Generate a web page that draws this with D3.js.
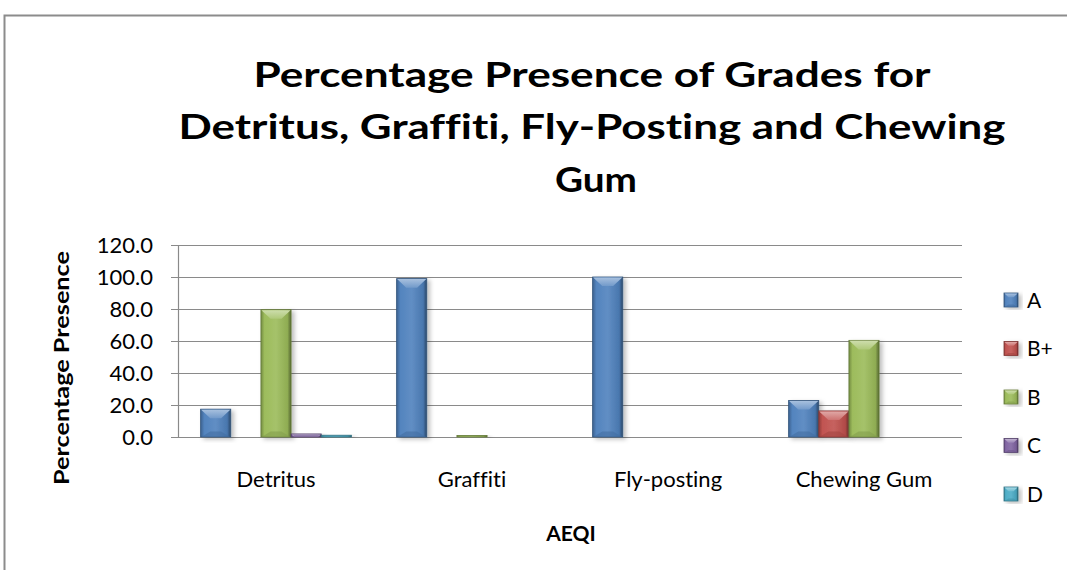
<!DOCTYPE html>
<html><head><meta charset="utf-8">
<script src="https://cdn.jsdelivr.net/npm/d3@7"></script>
<style>html,body{margin:0;padding:0;background:#fff;}svg{display:block;}text{font-variant-ligatures:none;}</style>
</head><body>
<script>
const categories = ["Detritus", "Graffiti", "Fly-posting", "Chewing Gum"];
const seriesNames = ["A", "B+", "B", "C", "D"];
const valuesA  = [17.4, 99.0, 100.0, 22.8];
const valuesBp = [0, 0, 0, 16.3];
const valuesB  = [79.6, 1.0, 0, 60.4];
const valuesC  = [1.9, 0, 0, 0];
const valuesD  = [1.1, 0, 0, 0];
const yTicks = [0, 20, 40, 60, 80, 100, 120];
const titleLines = ["Percentage Presence of Grades for", "Detritus, Graffiti, Fly-Posting and Chewing", "Gum"];
const colors = {"A":"#4F81BD","B+":"#C0504D","B":"#9BBB59","C":"#8064A2","D":"#4BACC6"};

const seriesValues = [valuesA, valuesBp, valuesB, valuesC, valuesD];

const W = 1067, H = 570;
const svg = d3.select("body").append("svg").attr("width", W).attr("height", H);
const defs = svg.append("defs");
const font = "Lato, 'Open Sans', sans-serif";

// frame
svg.append("path").attr("d", `M4.5,${H} L4.5,15.5 L${W},15.5`)
  .attr("fill","none").attr("stroke","#8c8c8c").attr("stroke-width",2);

// title
const titleBaselines = [87, 139, 192];
const titleWidths = [677, 827, 82];
titleLines.forEach((t,i)=>{
  svg.append("text").attr("x", i===2?596:592).attr("y", titleBaselines[i])
    .attr("text-anchor","middle").attr("font-family",font).attr("font-weight","bold")
    .attr("font-size",35).attr("fill","#000")
    .attr("textLength", titleWidths[i]).attr("lengthAdjust","spacingAndGlyphs")
    .text(t);
});

const x0 = d3.scaleBand().domain(categories).range([178, 962]).paddingInner(0).paddingOuter(0);
const x1 = d3.scaleBand().domain(seriesNames).range([0, x0.bandwidth()]).paddingInner(0).paddingOuter(0.75);
const y = d3.scaleLinear().domain([0,120]).range([437, 245]);

// gridlines
svg.append("g").selectAll("line").data(yTicks).join("line")
  .attr("x1",171).attr("x2",962).attr("y1",d=>Math.round(y(d))+0.5).attr("y2",d=>Math.round(y(d))+0.5)
  .attr("stroke","#8a8a8a").attr("stroke-width",1.2);
// y axis line
svg.append("line").attr("x1",178.5).attr("x2",178.5).attr("y1",y(120)).attr("y2",y(0))
  .attr("stroke","#8a8a8a").attr("stroke-width",1.2);

// y tick labels
svg.append("g").selectAll("text").data(yTicks).join("text")
  .attr("x",153).attr("y",d=>y(d)).attr("dy","0.36em").attr("text-anchor","end")
  .attr("font-family",font).attr("font-size",22).attr("fill","#000")
  .text(d=>d3.format(".1f")(d));

// gradients
function shade(c,k){ return k>0? d3.interpolateRgb(c,"#fff")(k) : d3.interpolateRgb(c,"#000")(-k); }
seriesNames.forEach((s,i)=>{
  const c = colors[s];
  const g = defs.append("linearGradient").attr("id","g"+i).attr("x1","0").attr("x2","1").attr("y1","0").attr("y2","0");
  g.append("stop").attr("offset","0%").attr("stop-color",shade(c,-0.25));
  g.append("stop").attr("offset","12%").attr("stop-color",shade(c,0.02));
  g.append("stop").attr("offset","50%").attr("stop-color",shade(c,0.1));
  g.append("stop").attr("offset","88%").attr("stop-color",shade(c,-0.08));
  g.append("stop").attr("offset","100%").attr("stop-color",shade(c,-0.45));
  const t = defs.append("linearGradient").attr("id","t"+i).attr("x1","0").attr("x2","0").attr("y1","0").attr("y2","1");
  t.append("stop").attr("offset","0%").attr("stop-color",shade(c,0.5));
  t.append("stop").attr("offset","100%").attr("stop-color",shade(c,0.2));
});
const f = defs.append("filter").attr("id","sh").attr("x","-20%").attr("y","-20%").attr("width","150%").attr("height","140%");
f.append("feDropShadow").attr("dx",3).attr("dy",2).attr("stdDeviation",2).attr("flood-color","#000").attr("flood-opacity",0.25);

function drawBevel(g, x, yTop, w, h, i){
  g.append("rect").attr("x",x).attr("y",yTop).attr("width",w).attr("height",h)
    .attr("fill",`url(#g${i})`).attr("stroke",shade(colors[seriesNames[i]],-0.35)).attr("stroke-width",0.8)
    .attr("filter","url(#sh)");
  const bh = Math.min(w*0.3, h);
  const inset = Math.min(w*0.32, h*1.0);
  if (h > 3) {
    g.append("path").attr("d",`M${x+0.5},${yTop+0.5} L${x+w-0.5},${yTop+0.5} L${x+w-inset},${yTop+bh} L${x+inset},${yTop+bh} Z`)
      .attr("fill",`url(#t${i})`);
    g.append("path").attr("d",`M${x+0.5},${yTop+h} L${x+w-0.5},${yTop+h} L${x+w-inset},${yTop+h-bh*0.6} L${x+inset},${yTop+h-bh*0.6} Z`)
      .attr("fill",shade(colors[seriesNames[i]],-0.15)).attr("opacity",0.6);
  }
}

const barsG = svg.append("g");
categories.forEach((cat,ci)=>{
  seriesNames.forEach((s,si)=>{
    const v = seriesValues[si][ci];
    if (!v) return;
    const x = x0(cat) + x1(s);
    const yt = y(v);
    drawBevel(barsG, x, yt, x1.bandwidth(), y(0)-yt, si);
  });
});

// category labels
svg.append("g").selectAll("text").data(categories).join("text")
  .attr("x",d=>x0(d)+x0.bandwidth()/2).attr("y",487).attr("text-anchor","middle")
  .attr("font-family",font).attr("font-size",22).attr("fill","#000").text(d=>d);

// axis titles
svg.append("text").attr("x",571).attr("y",541).attr("text-anchor","middle")
  .attr("font-family",font).attr("font-weight","bold").attr("font-size",21).text("AEQI");
svg.append("text").attr("transform","translate(69,368) rotate(-90)").attr("text-anchor","middle")
  .attr("font-family",font).attr("font-weight","bold").attr("font-size",21)
  .attr("textLength",234).attr("lengthAdjust","spacingAndGlyphs").text("Percentage Presence");

// legend
const leg = svg.append("g");
seriesNames.forEach((s,i)=>{
  const cy = 300 + i*48.5;
  drawBevel(leg, 1004, cy-7, 14, 14, i);
  leg.append("text").attr("x",1027).attr("y",cy).attr("dy","0.36em")
    .attr("font-family",font).attr("font-size",21).attr("fill","#000").text(s);
});
</script>
</body></html>
